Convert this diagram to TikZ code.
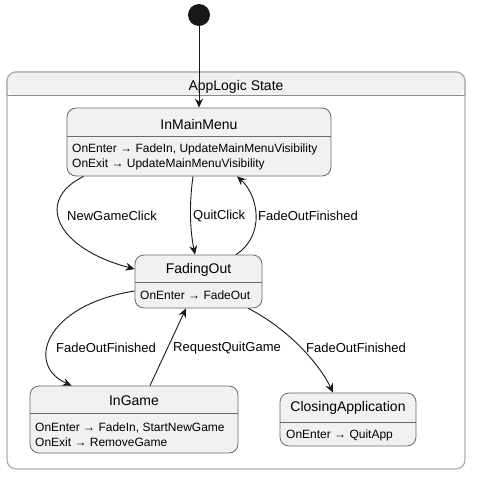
\documentclass[tikz,border=0pt]{standalone}
\usepackage{fontspec}
\setmainfont{Liberation Sans}
\usetikzlibrary{arrows.meta}
\definecolor{stfill}{HTML}{F1F1F1}
\definecolor{stline}{HTML}{6A6A6A}
\definecolor{outline}{HTML}{B0B0B0}
\definecolor{arr}{HTML}{181818}
\begin{document}
\begin{tikzpicture}[x=1pt,y=-1pt,
  statebox/.style={draw=stline,fill=stfill,line width=0.8pt,rounded corners=9pt,minimum width=#1,inner sep=0pt},
  ttl/.style={font=\fontsize{14}{16}\selectfont,inner sep=0pt},
  body/.style={font=\fontsize{12}{15}\selectfont,inner sep=0pt,anchor=west,align=left},
  lbl/.style={font=\fontsize{13}{15}\selectfont,inner sep=0pt,anchor=west},
  sep/.style={draw=stline,line width=0.8pt},
  edge/.style={draw=arr,line width=0.9pt,-{Stealth[length=9pt,width=8pt,inset=3pt]}}]
\useasboundingbox (0,0) rectangle (478,476);
% outer composite state
\node[draw=outline,line width=1.2pt,rounded corners=9pt,minimum width=458pt,minimum height=397pt,inner sep=0pt] (outer) at (236,270.5) {};
\fill[stfill,rounded corners=9pt] (7.6,95) -- (7.6,72.6) -- (464.4,72.6) -- (464.4,95) -- cycle;
\draw[outline,line width=1.2pt,rounded corners=9pt] (7,95) -- (7,72) -- (465,72) -- (465,95);
\draw[draw=gray!90,line width=0.8pt] (7,95) -- (465,95);
\node[ttl] (outert) at (236,87) {AppLogic State};
% initial
\node[circle,fill=arr,minimum size=22pt,inner sep=0pt] (init) at (199,15) {};
% states
\node[statebox=264pt,minimum height=68pt] (imm) at (199,142) {};
\draw[sep] (67,136) -- (331,136);
\node[ttl] (immt) at (199,124) {InMainMenu};
\node[body] (immb) at (72,156.5) {OnEnter → FadeIn, UpdateMainMenuVisibility\\OnExit → UpdateMainMenuVisibility};

\node[statebox=127pt,minimum height=53pt] (fo) at (198.5,281.5) {};
\draw[sep] (135,282) -- (262,282);
\node[ttl] (fot) at (198.5,270) {FadingOut};
\node[body] (fob) at (140,295) {OnEnter → FadeOut};

\node[statebox=208pt,minimum height=67pt] (ig) at (134,419.5) {};
\draw[sep] (30,413) -- (238,413);
\node[ttl] (igt) at (134,401) {InGame};
\node[body] (igb) at (35,434.5) {OnEnter → FadeIn, StartNewGame\\OnExit → RemoveGame};

\node[statebox=136pt,minimum height=53pt] (ca) at (348,419.5) {};
\draw[sep] (280,422) -- (416,422);
\node[ttl] (cat) at (348,408) {ClosingApplication};
\node[body] (cab) at (286,435) {OnEnter → QuitApp};

% edges
\draw[edge] (init.south) -- (imm.north);
\draw[edge] ([xshift=17pt]imm.south west) .. controls (35,200) and (55,248) .. ([yshift=12.5pt]fo.west);
\draw[edge] ([xshift=-6pt]imm.south) .. controls (189,205) and (190,230) .. ([xshift=-3.5pt]fo.north);
\draw[edge] ([xshift=37.5pt]fo.north) .. controls (266,235) and (258,195) .. ([xshift=38pt]imm.south);
\draw[edge] ([yshift=-9.5pt]fo.west) .. controls (45,305) and (25,365) .. ([xshift=42pt]ig.north west);
\draw[edge] ([xshift=16pt]ig.north) -- ([xshift=-12.5pt]fo.south);
\draw[edge] ([xshift=-14pt]fo.south east) .. controls (290,330) and (320,365) .. ([xshift=-15pt]ca.north);
% labels
\node[lbl] (l1) at (67,216) {NewGameClick};
\node[lbl] (l2) at (193,216) {QuitClick};
\node[lbl] (l3) at (258,216) {FadeOutFinished};
\node[lbl] (l4) at (56,348) {FadeOutFinished};
\node[lbl] (l5) at (173,348) {RequestQuitGame};
\node[lbl] (l6) at (306,348) {FadeOutFinished};
\end{tikzpicture}
\end{document}
